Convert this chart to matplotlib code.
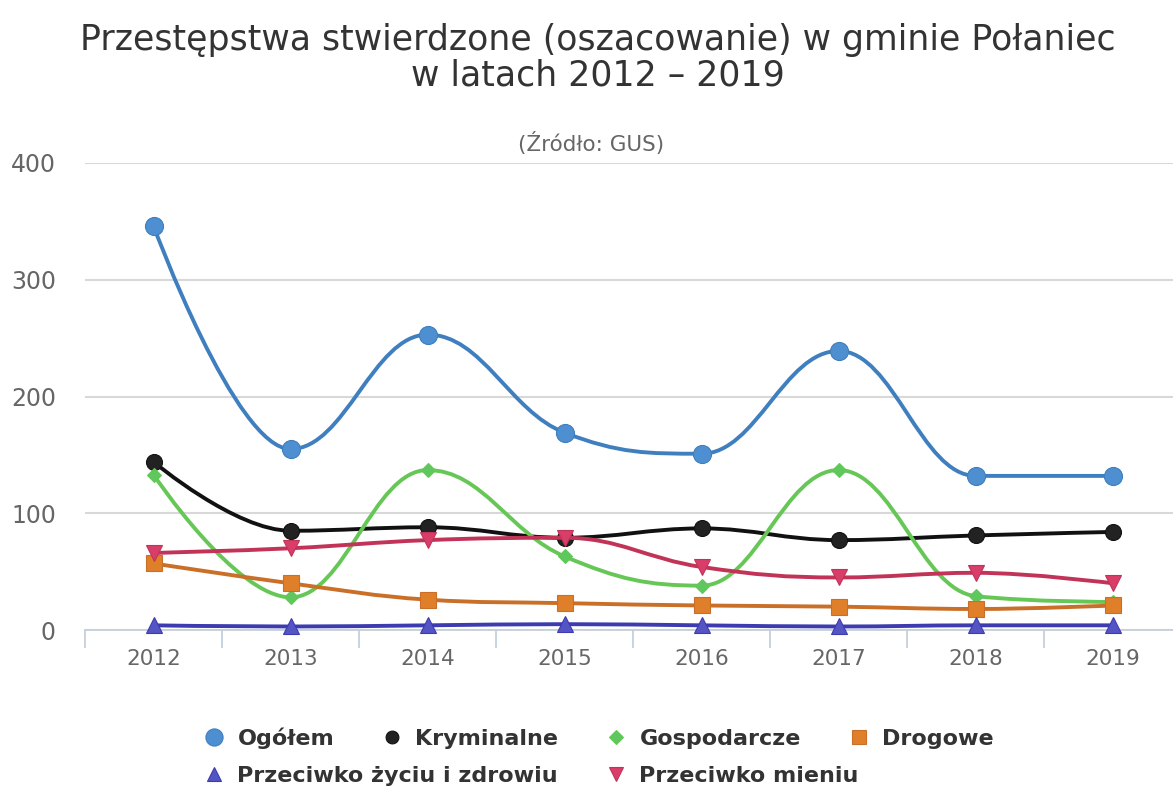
import matplotlib
matplotlib.use("Agg")
import matplotlib.pyplot as plt
from matplotlib.path import Path
from matplotlib.patches import PathPatch
from matplotlib.lines import Line2D

plt.rcParams['font.family'] = ['DejaVu Sans']

years = ["2012", "2013", "2014", "2015", "2016", "2017", "2018", "2019"]
ogolem = [346, 155, 253, 169, 151, 239, 132, 132]
kryminalne = [144, 85, 88, 79, 87, 77, 81, 84]
gospodarcze = [133, 28, 137, 63, 38, 137, 29, 24]
drogowe = [57, 40, 26, 23, 21, 20, 18, 21]
zycie = [4, 3, 4, 5, 4, 3, 4, 4]
mienie = [66, 70, 77, 79, 54, 45, 49, 40]

series = [
    ("Ogółem", ogolem, "#3f7fbf", "#4d8fd0", "o", 13),
    ("Kryminalne", kryminalne, "#111111", "#222222", "o", 11.5),
    ("Gospodarcze", gospodarcze, "#66c757", "#5ec85e", "D", 7.5),
    ("Drogowe", drogowe, "#c96f28", "#e07f2a", "s", 11),
    ("Przeciwko życiu i zdrowiu", zycie, "#3c3cb0", "#5454c4", "^", 11),
    ("Przeciwko mieniu", mienie, "#c23358", "#d93d6a", "v", 11),
]
legend_scale = [0.95, 0.8, 0.95, 0.9, 0.9, 0.9]


def spline_path(xs, ys, smoothing=1.5):
    n = len(xs)
    verts = [(xs[0], ys[0])]
    codes = [Path.MOVETO]
    right_prev = (xs[0], ys[0])
    denom = smoothing + 1
    for i in range(1, n):
        x, y = xs[i], ys[i]
        right = None
        if i < n - 1:
            lx, ly = xs[i - 1], ys[i - 1]
            nx, ny = xs[i + 1], ys[i + 1]
            lcx = (smoothing * x + lx) / denom
            lcy = (smoothing * y + ly) / denom
            rcx = (smoothing * x + nx) / denom
            rcy = (smoothing * y + ny) / denom
            if rcx != lcx:
                corr = (rcy - lcy) * (rcx - x) / (rcx - lcx) + y - rcy
                lcy += corr
                rcy += corr
                if lcy > ly and lcy > y:
                    lcy = max(ly, y); rcy = 2 * y - lcy
                elif lcy < ly and lcy < y:
                    lcy = min(ly, y); rcy = 2 * y - lcy
                if rcy > ny and rcy > y:
                    rcy = max(ny, y); lcy = 2 * y - rcy
                elif rcy < ny and rcy < y:
                    rcy = min(ny, y); lcy = 2 * y - rcy
            left = (lcx, lcy)
            right = (rcx, rcy)
        else:
            left = (x, y)
        verts += [right_prev, left, (x, y)]
        codes += [Path.CURVE4] * 3
        right_prev = right
    return Path(verts, codes)


fig = plt.figure(figsize=(11.73, 7.90), dpi=100)
W, H = 1173, 790
ax = fig.add_axes([85 / W, 1 - 630 / H, (W - 85) / W, (630 - 163) / H])

xs = list(range(len(years)))
for i, (name, vals, lc, mc, mk, ms) in enumerate(series):
    p = spline_path(xs, vals)
    ax.add_patch(PathPatch(p, fill=False, edgecolor=lc, lw=2.8, zorder=3 + i * 0.1,
                           clip_on=False, capstyle='round', joinstyle='round'))
    ax.plot(xs, vals, linestyle='none', marker=mk, markersize=ms, color=mc,
            markeredgecolor=lc, markeredgewidth=0.8, zorder=3.05 + i * 0.1, clip_on=False)

ax.set_xlim(-0.5, 7.44)
ax.set_ylim(0, 400)
ax.set_yticks([0, 100, 200, 300, 400])
ax.yaxis.grid(True, color="#d8d8d8", lw=1.5)
ax.set_axisbelow(True)
ax.tick_params(axis='y', length=0, pad=21, labelsize=17, labelcolor="#666666")

ax.set_xticks([b - 0.5 for b in range(len(years))])
ax.set_xticklabels([])
ax.set_xticks(xs, minor=True)
ax.set_xticklabels(years, minor=True)
ax.tick_params(axis='x', which='major', length=13, width=1.3, color="#c5d0dc", direction='out')
ax.tick_params(axis='x', which='minor', length=0, pad=14, labelsize=15.5, labelcolor="#666666")

for s in ['top', 'right', 'left']:
    ax.spines[s].set_visible(False)
ax.spines['bottom'].set_color("#c5d0dc")
ax.spines['bottom'].set_linewidth(1.3)

fig.text(598 / W, 1 - 58 / H, "Przestępstwa stwierdzone (oszacowanie) w gminie Połaniec\nw latach 2012 – 2019",
         ha='center', va='center', fontsize=25, color="#333333", linespacing=1.05)
fig.text(591 / W, 1 - 143 / H, "(Źródło: GUS)", ha='center', va='center', fontsize=15.5, color="#666666")

handles = [Line2D([], [], linestyle='none', marker=mk, markersize=ms * sc, color=mc, markeredgecolor=lc,
                  markeredgewidth=0.8) for (_, _, lc, mc, mk, ms), sc in zip(series, legend_scale)]
labels = [s[0] for s in series]
common = dict(frameon=False, borderpad=0, borderaxespad=0, handlelength=1.0, handletextpad=0.55,
              columnspacing=2.1, prop={'weight': 'bold', 'size': 16}, labelcolor="#333333")
fig.legend(handles[:4], labels[:4], ncol=4, loc='center left', bbox_to_anchor=(203 / W, 1 - 738 / H), **common)
fig.legend(handles[4:], labels[4:], ncol=2, loc='center left', bbox_to_anchor=(203 / W, 1 - 776 / H), **common)

fig.savefig("out.png", dpi=100)
